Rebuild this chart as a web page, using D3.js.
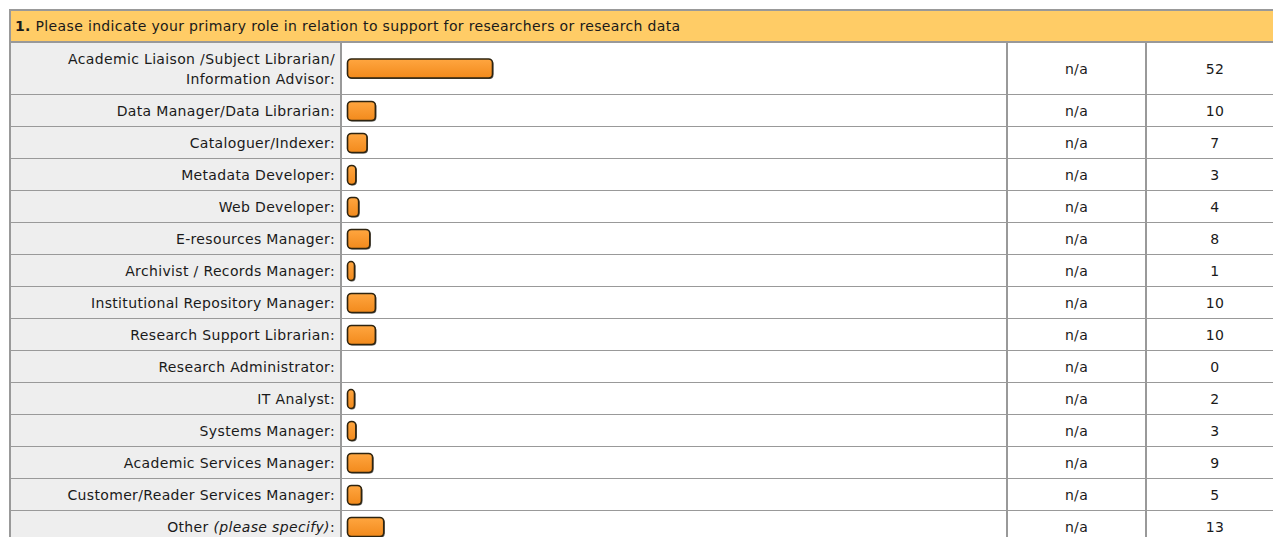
<!DOCTYPE html>
<html>
<head>
<meta charset="utf-8">
<script src="https://cdnjs.cloudflare.com/ajax/libs/d3/7.8.5/d3.min.js"></script>
<style>
  body { margin: 0; background: #fff; }
  svg text { font-family: "DejaVu Sans", Verdana, sans-serif; font-size: 14px; letter-spacing: 0.35px; fill: #1a1a1a; }
</style>
</head>
<body>
<script>
  var title = "Please indicate your primary role in relation to support for researchers or research data"
  var categories = [
    "Academic Liaison /Subject Librarian/\nInformation Advisor:",
    "Data Manager/Data Librarian:",
    "Cataloguer/Indexer:",
    "Metadata Developer:",
    "Web Developer:",
    "E-resources Manager:",
    "Archivist / Records Manager:",
    "Institutional Repository Manager:",
    "Research Support Librarian:",
    "Research Administrator:",
    "IT Analyst:",
    "Systems Manager:",
    "Academic Services Manager:",
    "Customer/Reader Services Manager:",
    "Other |(please specify)|:"
  ]
  var counts = [52, 10, 7, 3, 4, 8, 1, 10, 10, 0, 2, 3, 9, 5, 13]
  var percents = ["n/a","n/a","n/a","n/a","n/a","n/a","n/a","n/a","n/a","n/a","n/a","n/a","n/a","n/a","n/a"]

  var W = 1273, H = 537
  var tblLeft = 10, tblTop = 10, headH = 32
  var colLabel = 341, colBar = 1007, colPct = 1146, tblRight = 1290

  var svg = d3.select("body").append("svg").attr("width", W).attr("height", H)

  var defs = svg.append("defs")
  var grad = defs.append("linearGradient").attr("id", "bg").attr("x1", 0).attr("y1", 0).attr("x2", 0).attr("y2", 1)
  grad.append("stop").attr("offset", "0%").attr("stop-color", "#ffa640")
  grad.append("stop").attr("offset", "100%").attr("stop-color", "#f28a1c")

  // row geometry
  var rows = categories.map(function(c, i) {
    return { label: c, count: counts[i], pct: percents[i], h: c.indexOf("\n") >= 0 ? 53 : 32 }
  })
  var yy = tblTop + headH
  rows.forEach(function(r) { r.y = yy; yy += r.h })

  var x = d3.scaleLinear().domain([0, 52]).range([0, 145])

  // header
  svg.append("rect").attr("x", tblLeft).attr("y", tblTop).attr("width", tblRight - tblLeft).attr("height", headH)
    .attr("fill", "#ffcc66").attr("stroke", "#999").attr("stroke-width", 2)
  var ht = svg.append("text").attr("x", tblLeft + 5).attr("y", tblTop + 21)
  ht.append("tspan").attr("font-weight", "bold").text("1.")
  ht.append("tspan").text(" " + title)

  var g = svg.selectAll("g.row").data(rows).enter().append("g").attr("class", "row")

  g.append("rect").attr("x", tblLeft).attr("y", d => d.y).attr("width", colLabel - tblLeft).attr("height", d => d.h)
    .attr("fill", "#eeeeee")
  g.append("rect").attr("x", colLabel).attr("y", d => d.y).attr("width", tblRight - colLabel).attr("height", d => d.h)
    .attr("fill", "#fff")

  // horizontal lines
  g.append("line").attr("x1", tblLeft).attr("x2", tblRight).attr("y1", d => d.y + d.h).attr("y2", d => d.y + d.h)
    .attr("stroke", "#999").attr("stroke-width", 2)

  // labels
  g.each(function(d) {
    var lines = d.label.split("\n")
    var n = lines.length
    var cy = d.y + d.h / 2
    lines.forEach(function(ln, k) {
      var t = d3.select(this).append("text").attr("text-anchor", "end").attr("x", colLabel - 6)
        .attr("y", cy + 5 + (k - (n - 1) / 2) * 20)
      ln.split("|").forEach(function(part, j) {
        t.append("tspan").attr("font-style", j % 2 ? "italic" : null).text(part)
      })
    }, this)
  })

  // bars (with a small dark shadow)
  var bars = g.filter(d => d.count > 0)
  bars.append("rect")
    .attr("x", colLabel + 7.5)
    .attr("y", d => d.y + d.h / 2 - 8.5)
    .attr("width", d => Math.max(x(d.count), 7))
    .attr("height", 19)
    .attr("rx", 4).attr("ry", 4)
    .attr("fill", "#555")
  bars.append("rect")
    .attr("x", colLabel + 6.5)
    .attr("y", d => d.y + d.h / 2 - 9.5)
    .attr("width", d => Math.max(x(d.count), 7))
    .attr("height", 19)
    .attr("rx", 4).attr("ry", 4)
    .attr("fill", "url(#bg)").attr("stroke", "#2e2410").attr("stroke-width", 1.6)

  g.append("text").attr("text-anchor", "middle").attr("x", (colBar + colPct) / 2)
    .attr("y", d => d.y + d.h / 2 + 5).text(d => d.pct)
  g.append("text").attr("text-anchor", "middle").attr("x", 1215)
    .attr("y", d => d.y + d.h / 2 + 5).text(d => d.count)

  // vertical lines
  var tblBottom = yy
  ;[tblLeft, colLabel, colBar, colPct].forEach(function(cx) {
    svg.append("line").attr("x1", cx).attr("x2", cx).attr("y1", tblTop + headH).attr("y2", tblBottom)
      .attr("stroke", "#999").attr("stroke-width", 2)
  })
  svg.append("line").attr("x1", tblLeft).attr("x2", tblRight).attr("y1", tblTop + headH).attr("y2", tblTop + headH)
    .attr("stroke", "#999").attr("stroke-width", 2)
</script>
</body>
</html>
